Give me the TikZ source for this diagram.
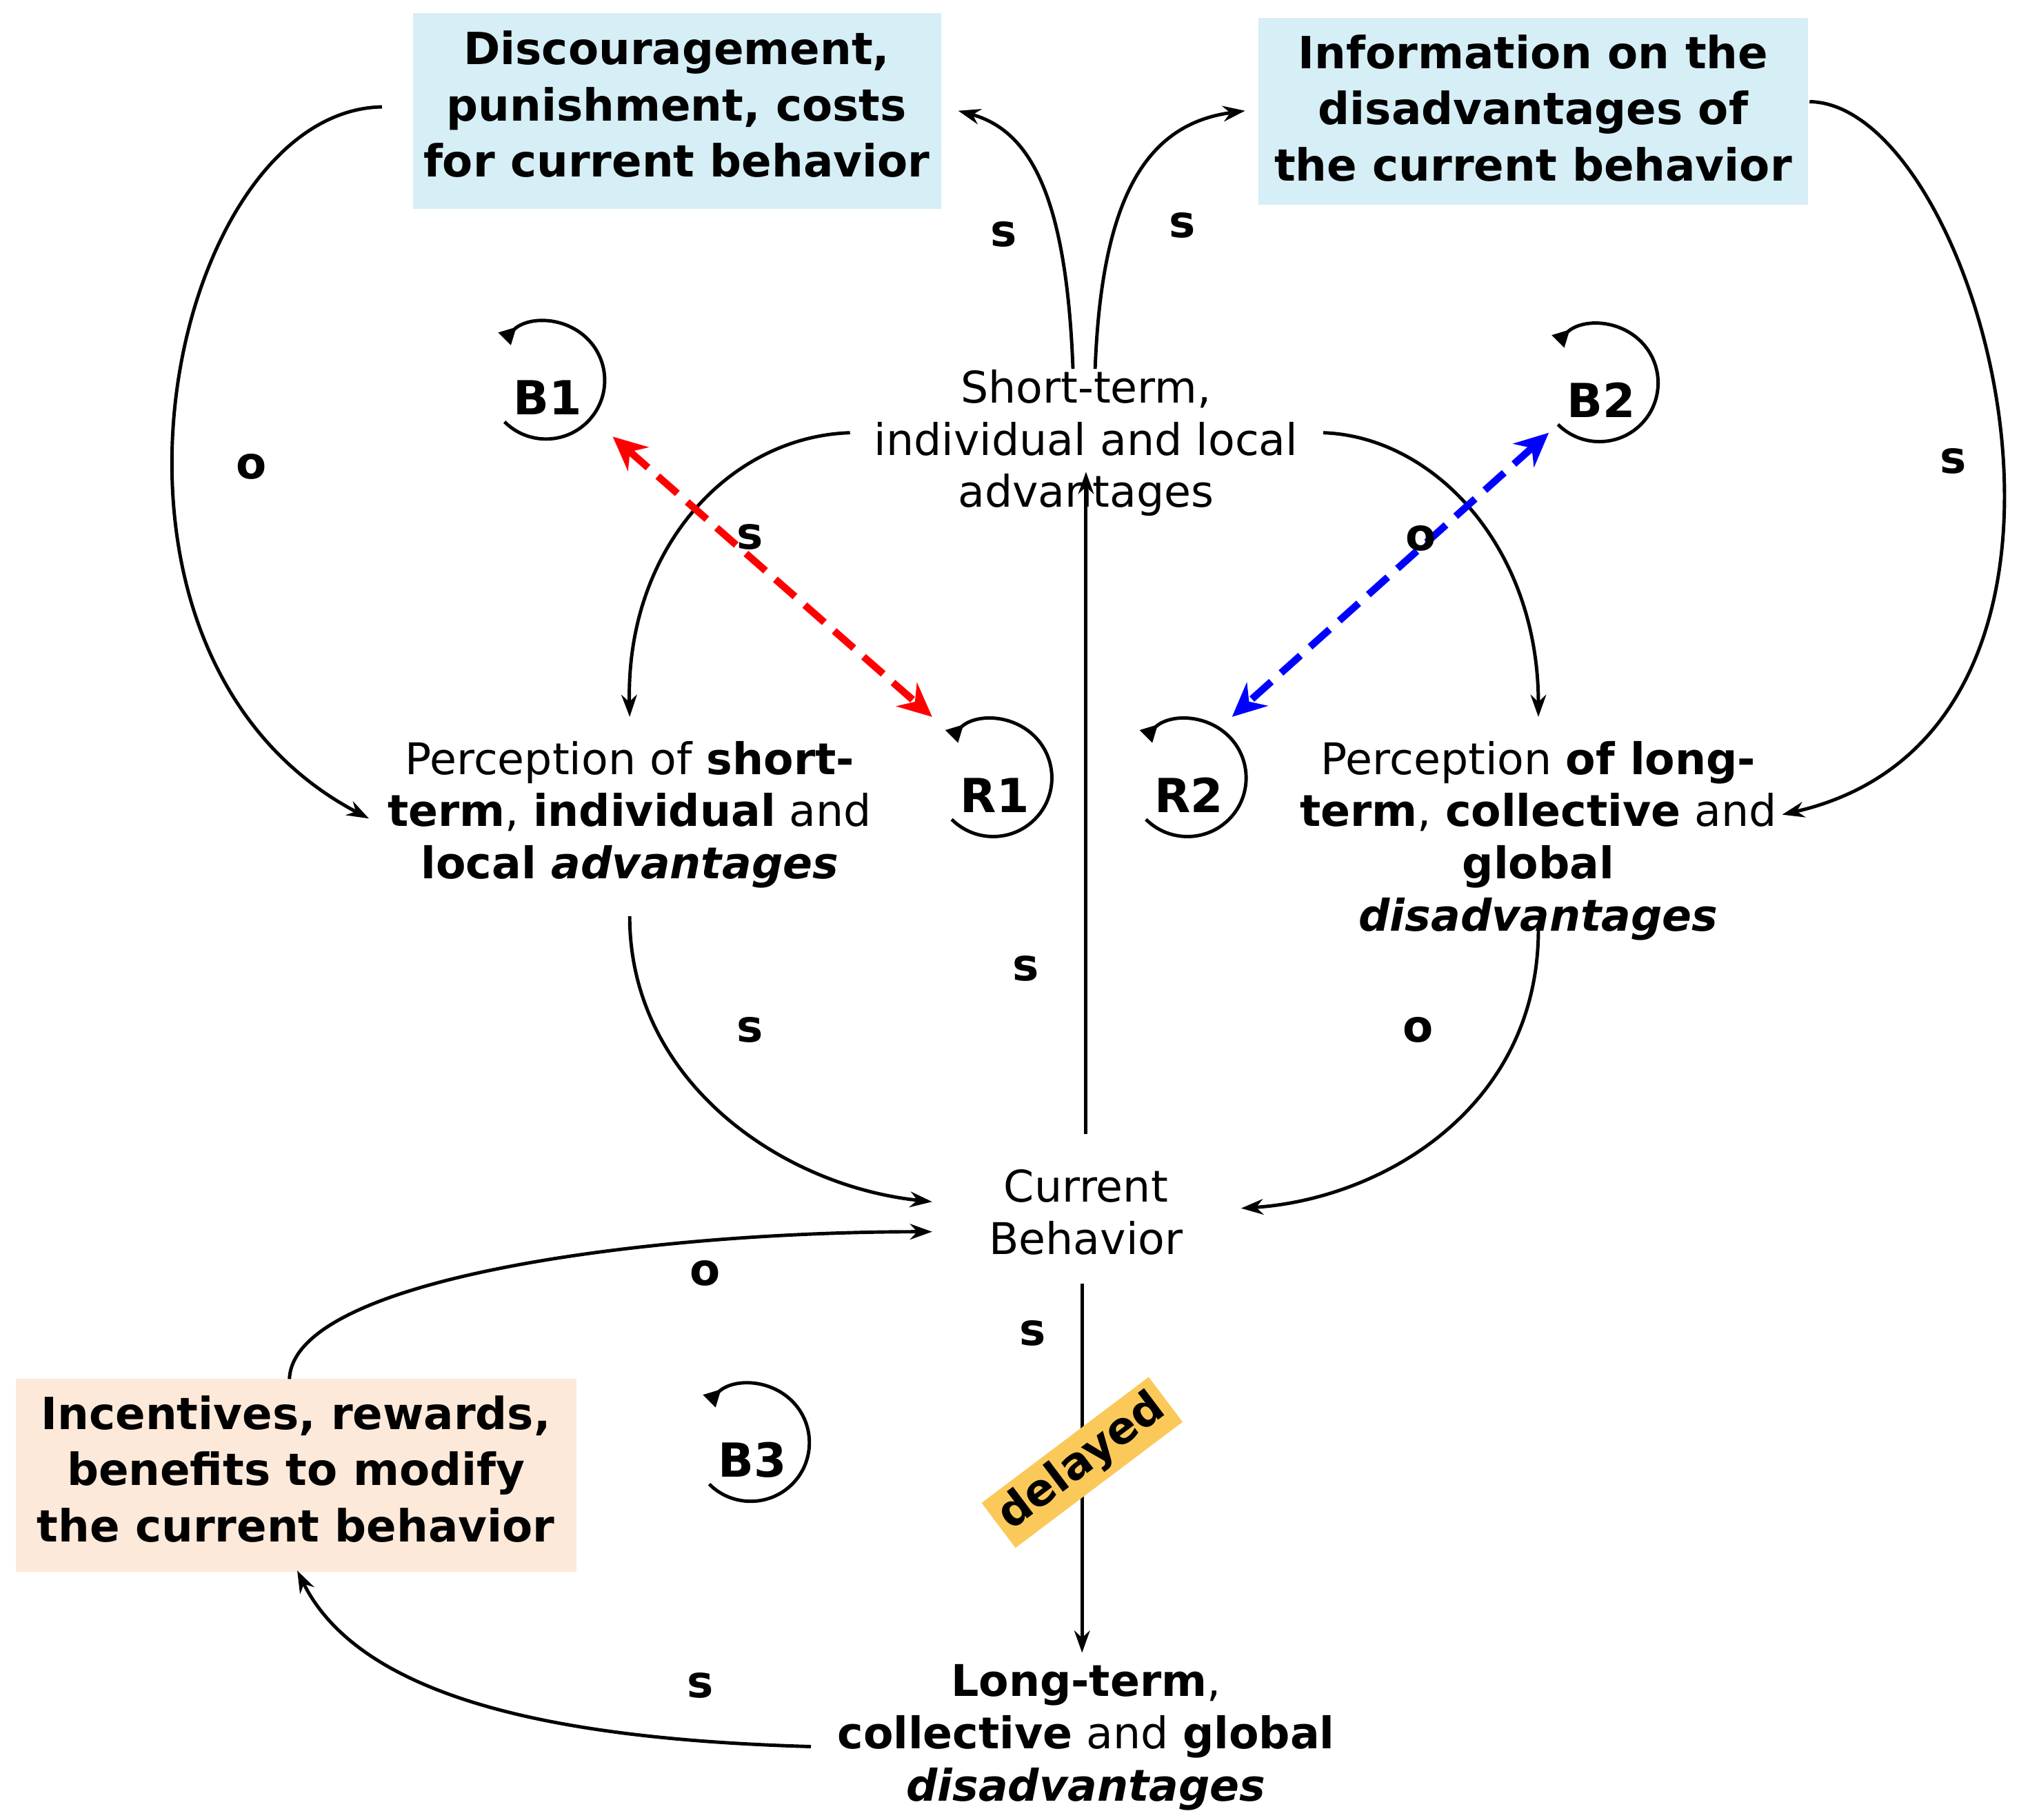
\documentclass[tikz,border=0pt]{standalone}
\usepackage{fontspec}
\setmainfont{DejaVu Sans}
\usetikzlibrary{arrows.meta}
\definecolor{lblue}{HTML}{D6EEF5}
\definecolor{lpeach}{HTML}{FDE9D9}
\definecolor{dorange}{HTML}{FBC95A}
\begin{document}
\begin{tikzpicture}[x=1pt,y=-1pt,
  txt/.style={align=center,font=\fontsize{33.5}{40}\selectfont,inner sep=1pt},
  box/.style={txt,font=\fontsize{34}{43}\selectfont\bfseries,inner sep=1pt},
  lab/.style={font=\fontsize{34}{36}\selectfont\bfseries},
  con/.style={line width=2.6pt,-{Stealth[length=17pt,width=12pt]}},
  lp/.style={line width=2.6pt,{Triangle[reversed,length=13pt,width=13pt]}-},
  dd/.style={line width=5.5pt,dash pattern=on 20pt off 10pt,{Stealth[length=26pt,width=24pt]}-{Stealth[length=26pt,width=24pt]}}]
\useasboundingbox (0,0) rectangle (1564,1396);
\fill[lblue] (317,10) rectangle (722,160);
\fill[lblue] (965,14) rectangle (1387,157);
\fill[lpeach] (12,1058) rectangle (442,1206);
\node[box] (disc) at (519,80) {Discouragement,\\punishment, costs\\for current behavior};
\node[box] (info) at (1176,83) {Information on the\\disadvantages of\\the current behavior};
\node[box] (inc) at (227,1127) {Incentives, rewards,\\benefits to modify\\the current behavior};
\node[txt] (st) at (833,340) {Short-term,\\individual and local\\advantages};
\node[txt] (ps) at (483,625) {Perception of \textbf{short-}\\\textbf{term}, \textbf{individual} and\\\textbf{local \textit{advantages}}};
\node[txt] (pl) at (1180,645) {Perception \textbf{of long-}\\\textbf{term}, \textbf{collective} and\\\textbf{global}\\\textbf{\textit{disadvantages}}};
\node[txt] (cb) at (833,930) {Current\\Behavior};
\node[txt] (lt) at (833,1333) {\textbf{Long-term},\\\textbf{collective} and \textbf{global}\\\textbf{\textit{disadvantages}}};
\coordinate (a1) at (823,283); \coordinate (a2) at (735,85);
\coordinate (b1) at (840,283); \coordinate (b2) at (955,85);
\coordinate (c1) at (293,82); \coordinate (c2) at (283,628);
\coordinate (d1) at (1388,78); \coordinate (d2) at (1367,625);
\coordinate (e1) at (652,332); \coordinate (e2) at (483,550);
\coordinate (f1) at (1015,332); \coordinate (f2) at (1180,550);
\coordinate (g1) at (833,870); \coordinate (g2) at (833,362);
\coordinate (h1) at (483,703); \coordinate (h2) at (715,922);
\coordinate (i1) at (1180,713); \coordinate (i2) at (952,927);
\coordinate (j1) at (222,1058); \coordinate (j2) at (715,945);
\coordinate (k1) at (830,985); \coordinate (k2) at (830,1268);
\coordinate (l1) at (622,1340); \coordinate (l2) at (228,1205);
\draw[con] (a1) .. controls (818,150) and (790,100) .. (a2);
\draw[con] (b1) .. controls (845,150) and (880,95) .. (b2);
\draw[con] (c1) .. controls (130,85) and (40,500) .. (c2);
\draw[con] (d1) .. controls (1520,80) and (1650,560) .. (d2);
\draw[con] (e1) .. controls (560,335) and (480,420) .. (e2);
\draw[con] (f1) .. controls (1100,335) and (1180,420) .. (f2);
\draw[con] (g1) -- (g2);
\draw[con] (h1) .. controls (483,830) and (600,910) .. (h2);
\draw[con] (i1) .. controls (1180,850) and (1060,920) .. (i2);
\draw[con] (j1) .. controls (225,980) and (500,945) .. (j2);
\draw[con] (k1) -- (k2);
\draw[con] (l1) .. controls (450,1335) and (280,1310) .. (l2);
\foreach \n/\x/\y in {B1/420/305,B2/1228/307,R1/763/610,R2/912/610,B3/577/1120}{
  \node[lab,font=\fontsize{36}{38}\selectfont\bfseries] at (\x,\y) {\n};
  \draw[lp] (\x-33,\y-45) arc[start angle=-135,end angle=135,radius=45];
}
\coordinate (rd1) at (470,335); \coordinate (rd2) at (715,550);
\coordinate (bl1) at (1188,332); \coordinate (bl2) at (945,550);
\draw[dd,red] (rd1) -- (rd2);
\draw[dd,blue] (bl1) -- (bl2);
\foreach \t/\x/\y in {s/770/180,s/907/173,o/193/358,s/575/412,o/1090/413,s/1498/354,s/787/743,s/575/790,o/1088/790,o/541/977,s/792/1023,s/537/1293}
  \node[lab] at (\x,\y) {\t};
\node[fill=dorange,rotate=37,font=\fontsize{34}{36}\selectfont\bfseries,inner sep=5pt] at (830,1122) {delayed};
\end{tikzpicture}
\end{document}
